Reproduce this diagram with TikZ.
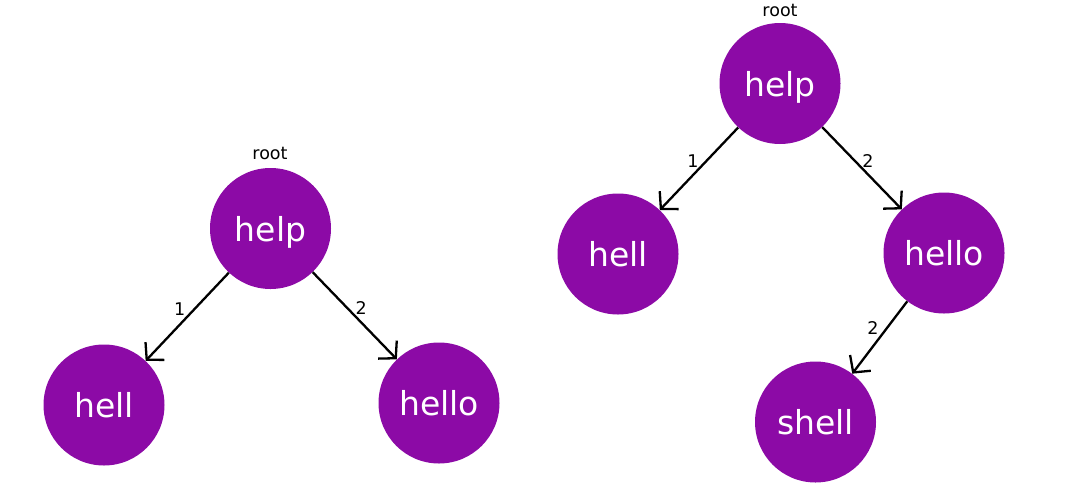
\documentclass[tikz,border=0pt]{standalone}
\usepackage{fontspec}
\setmainfont{DejaVu Sans}
\usetikzlibrary{arrows.meta}
\definecolor{nodepurple}{HTML}{8C0AA6}
\begin{document}
\begin{tikzpicture}[x=1pt,y=-1pt,
  tnode/.style={circle,fill=nodepurple,draw=none,minimum size=121pt,inner sep=0pt,
    text=white,font=\fontsize{33}{33}\selectfont,text depth=0pt},
  small/.style={font=\fontsize{17.5}{17.5}\selectfont,text=black,inner sep=0pt},
  conn/.style={line width=2.3pt,-{Straight Barb[length=12pt,width=26pt,line width=2.3pt]}},
  elab/.style={small,pos=0.41}]
\useasboundingbox (0,0) rectangle (1068,496);
% left tree
\node[tnode] (lhelp) at (270.5,228.5) {help};
\node[tnode] (lhell) at (104,405) {hell};
\node[tnode] (lhello) at (439,403) {hello};
\node[small] (lroot) at (270,153) {root};
\draw[conn] (lhelp) -- node[elab,xshift=-15pt] (l1) {1} (lhell);
\draw[conn] (lhelp) -- node[elab,xshift=14pt] (l2) {2} (lhello);
% right tree
\node[tnode] (rhelp) at (780,83.5) {help};
\node[tnode] (rhell) at (618,254) {hell};
\node[tnode] (rhello) at (944,253) {hello};
\node[tnode] (rshell) at (815.5,422) {shell};
\node[small] (rroot) at (780,10) {root};
\draw[conn] (rhelp) -- node[elab,xshift=-13pt] (r1) {1} (rhell);
\draw[conn] (rhelp) -- node[elab,xshift=13pt] (r2) {2} (rhello);
\draw[conn] (rhello) -- node[elab,pos=0.37,xshift=-14pt] (r3) {2} (rshell);
\end{tikzpicture}
\end{document}
